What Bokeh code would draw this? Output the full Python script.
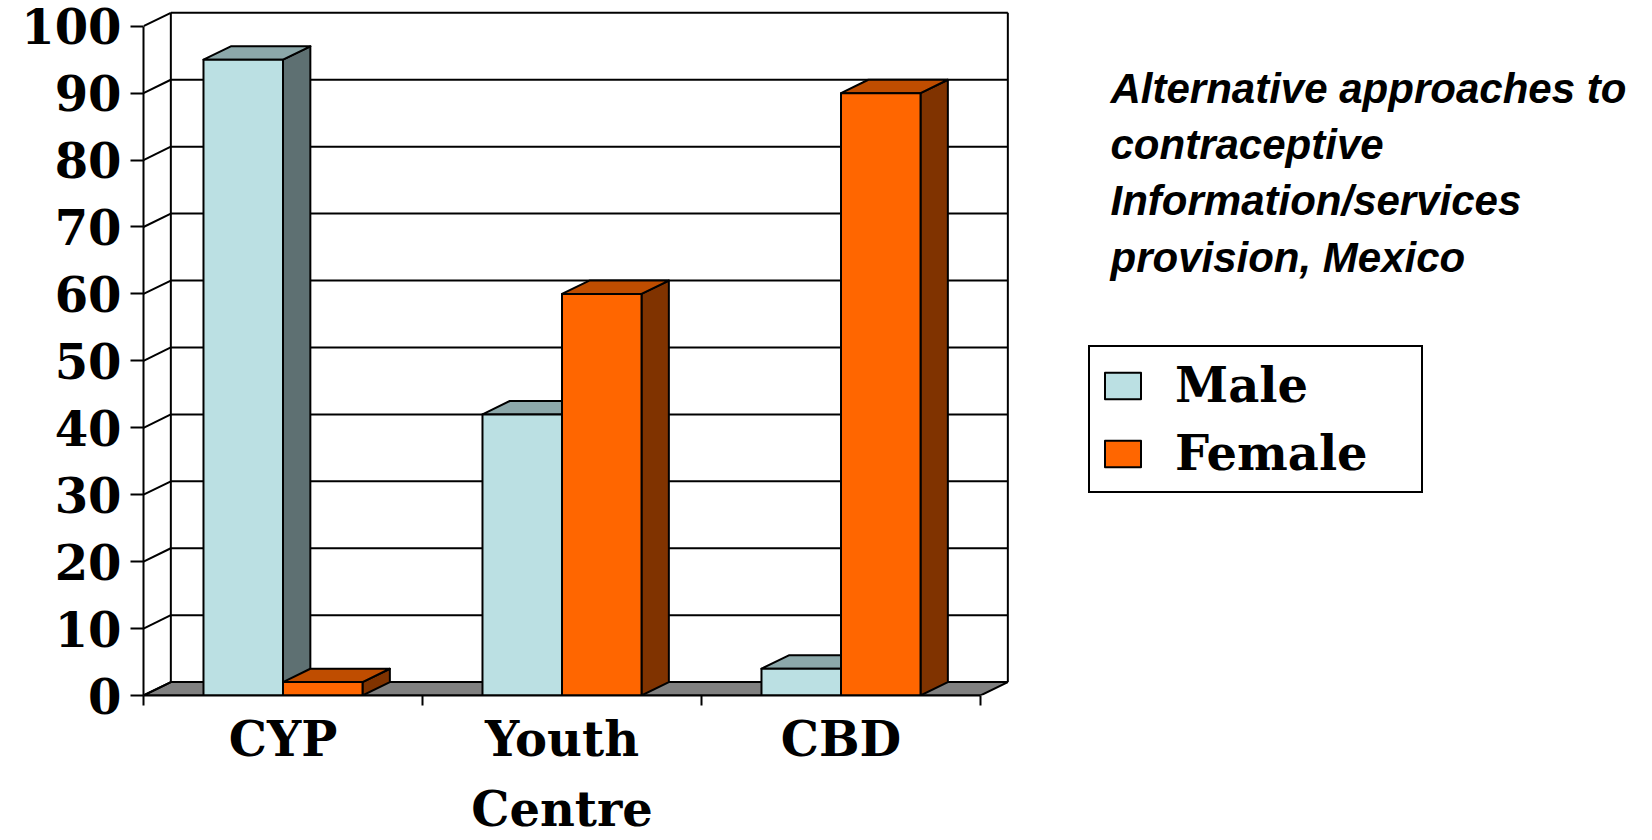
from bokeh.plotting import figure
from bokeh.models import Range1d, FixedTicker, Legend, LegendItem, Label, LinearAxis
from bokeh.embed import file_html
from bokeh.resources import INLINE

# ---- data ----
categories = ["CYP", "Youth\nCentre", "CBD"]
series_names = ["Male", "Female"]
male = [95, 42, 4]
female = [2, 60, 90]
y_ticks = [0, 10, 20, 30, 40, 50, 60, 70, 80, 90, 100]
title_text = "Alternative approaches to\ncontraceptive\nInformation/services\nprovision, Mexico"

# ---- style / layout constants ----
PX_X = 279.0      # pixels per category
PX_Y = 6.693      # pixels per value unit
LEFT, BOTTOM_PX = 143, 695
FRAME_W, FRAME_H = 1652 - LEFT, BOTTOM_PX
DX, DY = 0.098, 2.0   # 3-D depth offset in data units
BAR_W = 0.285
SERIF = "DejaVu Serif"
SERIF_SIZE = "48px"

front_cols = ["#BBE0E3", "#FF6600"]
top_cols = ["#8CA8AA", "#BF4D00"]
side_cols = ["#5E7072", "#803300"]

n = len(categories)
y_top = max(y_ticks)

p = figure(width=1652, height=840,
           x_range=Range1d(0, FRAME_W / PX_X), y_range=Range1d(0, FRAME_H / PX_Y),
           output_backend="svg", toolbar_location=None,
           x_axis_location=None, y_axis_location=None,
           min_border_left=LEFT, min_border_right=0, min_border_top=0,
           min_border_bottom=840 - BOTTOM_PX)
p.grid.visible = False
p.outline_line_color = None
p.background_fill_color = "white"
p.border_fill_color = "white"

# floor
p.patch([0, n, n + DX, DX], [0, 0, DY, DY], fill_color="#808080",
        line_color="black", line_width=2)
# back wall gridlines
p.multi_line(xs=[[DX, n + DX] for t in y_ticks], ys=[[t + DY, t + DY] for t in y_ticks],
             line_color="black", line_width=2)
# side wall diagonals
p.multi_line(xs=[[0, DX] for t in y_ticks], ys=[[t, t + DY] for t in y_ticks],
             line_color="black", line_width=2)
# wall vertical edges
p.multi_line(xs=[[DX, DX], [n + DX, n + DX]], ys=[[DY, y_top + DY], [DY, y_top + DY]],
             line_color="black", line_width=2)

front_renderers = []
for s, vals in enumerate([male, female]):
    x0s = [i + 0.5 - BAR_W + s * BAR_W for i in range(n)]
    side_xs = [[x0 + BAR_W, x0 + BAR_W + DX, x0 + BAR_W + DX, x0 + BAR_W] for x0 in x0s]
    side_ys = [[0, DY, v + DY, v] for v in vals]
    top_xs = [[x0, x0 + BAR_W, x0 + BAR_W + DX, x0 + DX] for x0 in x0s]
    top_ys = [[v, v, v + DY, v + DY] for v in vals]
    fr_xs = [[x0, x0 + BAR_W, x0 + BAR_W, x0] for x0 in x0s]
    fr_ys = [[0, 0, v, v] for v in vals]
    p.patches(side_xs, side_ys, fill_color=side_cols[s], line_color="black", line_width=2,
              line_join="round")
    p.patches(top_xs, top_ys, fill_color=top_cols[s], line_color="black", line_width=2,
              line_join="round")
    r = p.patches(fr_xs, fr_ys, fill_color=front_cols[s], line_color="black", line_width=2,
                  line_join="round")
    front_renderers.append(r)

# y axis (front)
yax = LinearAxis(ticker=FixedTicker(ticks=y_ticks), bounds=(0, y_top))
yax.axis_line_width = 2
yax.major_tick_line_width = 2
yax.major_tick_out = 13
yax.major_tick_in = 0
yax.minor_tick_out = 0
yax.major_label_standoff = 9
yax.major_label_text_font = SERIF
yax.major_label_text_font_style = "bold"
yax.major_label_text_font_size = SERIF_SIZE
yax.major_label_text_color = "black"
p.add_layout(yax, "left")

# x axis (front)
xax = LinearAxis(ticker=FixedTicker(ticks=[i + 0.5 for i in range(n)],
                                    minor_ticks=list(range(n + 1))),
                 bounds=(0, n))
xax.major_label_overrides = {i + 0.5: c for i, c in enumerate(categories)}
xax.axis_line_width = 2
xax.major_tick_out = 0
xax.major_tick_in = 0
xax.minor_tick_out = 10
xax.minor_tick_in = 0
xax.minor_tick_line_width = 2
xax.major_label_standoff = 5
xax.major_label_text_font = SERIF
xax.major_label_text_font_style = "bold"
xax.major_label_text_font_size = SERIF_SIZE
xax.major_label_text_color = "black"
xax.major_label_text_line_height = 1.25
p.add_layout(xax, "below")

legend = Legend(items=[LegendItem(label=series_names[k], renderers=[front_renderers[k]])
                       for k in range(2)],
                location=(945, 202), orientation="vertical",
                glyph_width=45, glyph_height=33, label_standoff=30, label_width=236,
                padding=10, spacing=12, margin=0,
                label_text_font=SERIF, label_text_font_style="bold",
                label_text_font_size=SERIF_SIZE, label_text_color="black",
                border_line_color="black", border_line_width=2, border_line_alpha=1,
                background_fill_color="white", background_fill_alpha=1)
p.add_layout(legend)

title = Label(x=(1110 - LEFT) / PX_X, y=(BOTTOM_PX - 64) / PX_Y, text=title_text,
              text_font="Liberation Sans", text_font_style="bold italic",
              text_font_size="42px", text_baseline="top", text_align="left",
              text_color="black", text_line_height=1.2)
p.add_layout(title)

open("out.html", "w").write(file_html(p, INLINE))
